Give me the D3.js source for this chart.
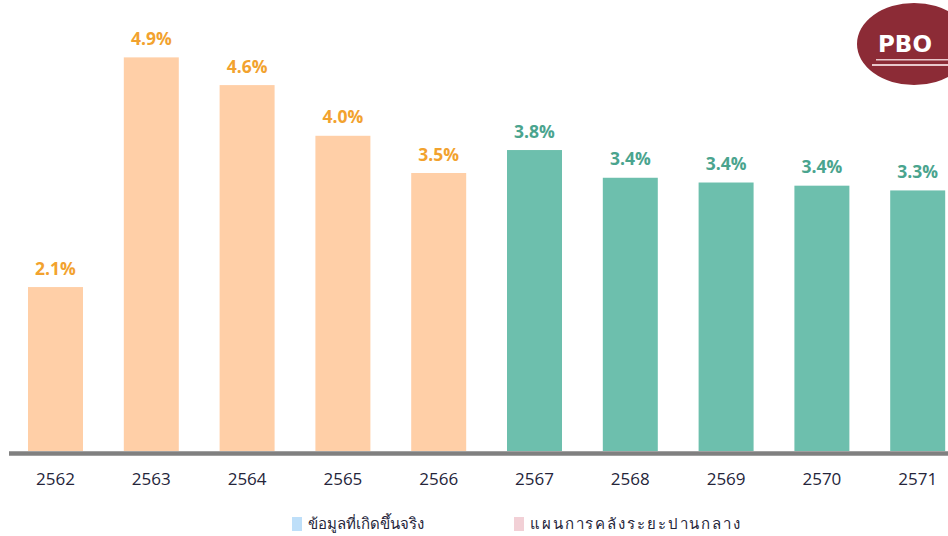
<!DOCTYPE html>
<html>
<head>
<meta charset="utf-8">
<script src="https://cdn.jsdelivr.net/npm/d3@7"></script>
<style>
body { margin: 0; background: #fff; }
svg { display: block; }
</style>
</head>
<body>
<svg id="chart" width="948" height="536"></svg>
<script>
var years = ["2562", "2563", "2564", "2565", "2566", "2567", "2568", "2569", "2570", "2571"];
var values = [2.07, 4.97, 4.62, 3.98, 3.51, 3.80, 3.45, 3.39, 3.35, 3.29];
var labels = ["2.1%", "4.9%", "4.6%", "4.0%", "3.5%", "3.8%", "3.4%", "3.4%", "3.4%", "3.3%"];
var kinds = ["actual", "actual", "actual", "actual", "actual", "plan", "plan", "plan", "plan", "plan"];
var legendNames = ["ข้อมูลที่เกิดขึ้นจริง", "แผนการคลังระยะปานกลาง"];

var BAR_FILL = { actual: "#FFCFA7", plan: "#6DBFAD" };
var LABEL_FILL = { actual: "#F2A22E", plan: "#4AA48E" };

var svg = d3.select("#chart");

var x = d3.scaleBand()
	.domain(years)
	.range([7.6, 965.6])
	.paddingInner(0.426)
	.paddingOuter(0.213);

var y = d3.scaleLinear()
	.domain([0, 5])
	.range([451, 451 - 5 * 79.2]);

// logo
var logo = svg.append("g");
logo.append("ellipse")
	.attr("cx", 914).attr("cy", 44)
	.attr("rx", 57).attr("ry", 41)
	.attr("fill", "#8C2B36");
logo.append("text")
	.attr("x", 878).attr("y", 52)
	.attr("font-family", "DejaVu Sans")
	.attr("font-weight", "bold")
	.attr("font-size", 23)
	.attr("fill", "#fff")
	.text("PBO");
logo.append("rect")
	.attr("x", 876).attr("y", 59).attr("width", 72).attr("height", 1.5)
	.attr("fill", "#e9c8cc");
logo.append("rect")
	.attr("x", 872).attr("y", 64).attr("width", 76).attr("height", 2)
	.attr("fill", "#e9c8cc");

// bars
svg.selectAll("rect.bar").data(years).enter().append("rect")
	.attr("class", "bar")
	.attr("x", function(d) { return x(d); })
	.attr("width", x.bandwidth())
	.attr("y", function(d, i) { return y(values[i]); })
	.attr("height", function(d, i) { return y(0) - y(values[i]); })
	.attr("fill", function(d, i) { return BAR_FILL[kinds[i]]; });

// value labels
svg.selectAll("text.val").data(years).enter().append("text")
	.attr("class", "val")
	.attr("x", function(d) { return x(d) + x.bandwidth() / 2; })
	.attr("y", function(d, i) { return y(values[i]) - 12.5; })
	.attr("text-anchor", "middle")
	.attr("font-family", "Open Sans")
	.attr("font-weight", "bold")
	.attr("font-size", 17.5)
	.attr("fill", function(d, i) { return LABEL_FILL[kinds[i]]; })
	.text(function(d, i) { return labels[i]; });

// baseline
svg.append("line")
	.attr("x1", 9).attr("x2", 948)
	.attr("y1", y(0) + 2.5).attr("y2", y(0) + 2.5)
	.attr("stroke", "#808080")
	.attr("stroke-width", 4.5);

// year axis
var axis = svg.append("g")
	.attr("transform", "translate(0," + (y(0) + 5) + ")")
	.call(d3.axisBottom(x).tickSize(0).tickPadding(17));
axis.select(".domain").remove();
axis.selectAll("text")
	.attr("font-family", "Open Sans")
	.attr("font-size", 17)
	.attr("fill", "#25253a");

// legend
var legend = svg.append("g");
var legendX = [292, 514];
var legendFill = ["#BEDFF9", "#F2D0D6"];
legendNames.forEach(function(name, i) {
	legend.append("rect")
		.attr("x", legendX[i]).attr("y", 517)
		.attr("width", 10).attr("height", 14)
		.attr("fill", legendFill[i]);
	var t = legend.append("text")
		.attr("x", legendX[i] + 16).attr("y", 529)
		.attr("font-family", "Noto Sans")
		.attr("font-size", 15)
		.attr("fill", "#25253a")
		.text(name);
	if (i === 1) {
		t.attr("textLength", 210).attr("lengthAdjust", "spacing");
	}
});
</script>
</body>
</html>
